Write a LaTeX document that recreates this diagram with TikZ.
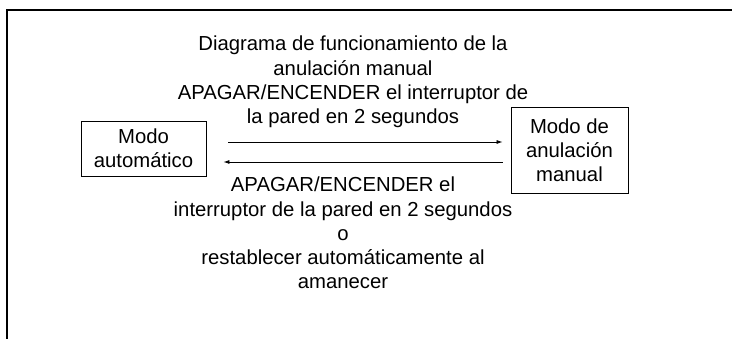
\documentclass[tikz,border=0pt]{standalone}
\usepackage{fontspec}
\setmainfont{Liberation Sans}
\usetikzlibrary{arrows.meta}
\begin{document}
\begin{tikzpicture}[x=1pt,y=-1pt,
  txt/.style={font=\fontsize{20.3}{24.2}\selectfont, align=center, inner sep=0pt},
  modebox/.style={draw, line width=0.9pt, txt},
  arr/.style={line width=0.8pt, -{Latex[length=6pt,width=4pt]}},
  frameline/.style={line width=2.2pt}]
\useasboundingbox (0,0) rectangle (732,339);
\coordinate (fa) at (732,10);
\coordinate (fb) at (7,10);
\coordinate (fc) at (7,339);
\draw[frameline] (fa) -- (fb) -- (fc);
\node[modebox, minimum width=125pt, minimum height=55pt] (auto) at (143.5,148.5) {Modo\\automático};
\node[modebox, minimum width=117pt, minimum height=86pt] (man) at (569.5,150) {Modo de\\anulación\\manual};
\node[txt, anchor=north] (title) at (353,36) {Diagrama de funcionamiento de la\\anulación manual\\APAGAR/ENCENDER el interruptor de\\la pared en 2 segundos};
\node[txt, anchor=north] (back) at (343,177) {APAGAR/ENCENDER el\\interruptor de la pared en 2 segundos\\o\\restablecer automáticamente al\\amanecer};
\coordinate (ytop) at (0,142);
\coordinate (ybot) at (0,162);
\draw[arr, shorten <=22pt, shorten >=8pt] (auto.east |- ytop) -- (man.west |- ytop);
\draw[arr, shorten <=8pt, shorten >=17pt] (man.west |- ybot) -- (auto.east |- ybot);
\end{tikzpicture}
\end{document}
